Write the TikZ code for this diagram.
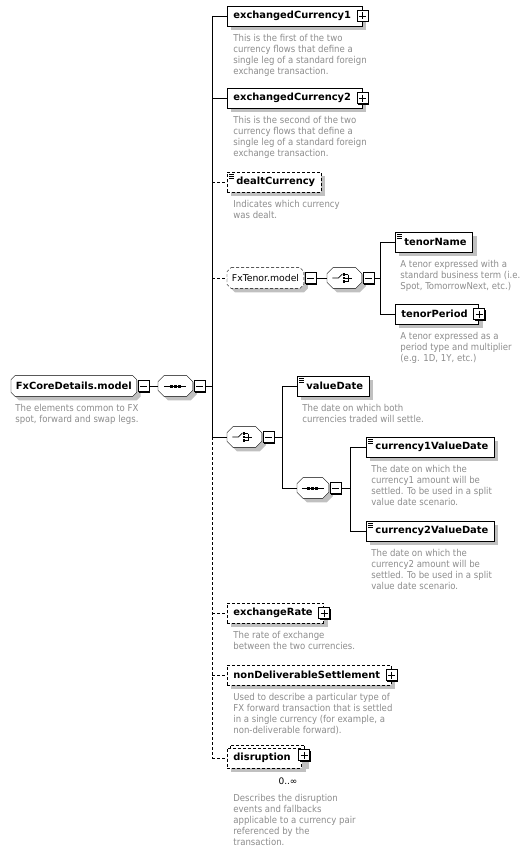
\documentclass[tikz,border=0pt]{standalone}
\usepackage{fontspec}
\setmainfont{DejaVu Sans}
\newfontfamily\descfont{DejaVu Sans Condensed}
\usetikzlibrary{positioning,shadows,backgrounds}

\definecolor{descgray}{RGB}{140,140,140}
\definecolor{shadegray}{RGB}{192,192,192}

\tikzset{
  box shadow/.style={drop shadow={shadow xshift=4pt,shadow yshift=-4pt,fill=shadegray,opacity=1}},
  elem/.style={draw,fill=white,rectangle,anchor=west,minimum height=20pt,
    inner xsep=6pt,inner ysep=0pt,font=\bfseries\fontsize{9.9}{12}\selectfont,box shadow},
  optional/.style={dash pattern=on 3pt off 2pt},
  plusroom/.style={execute at end node={\hspace{5pt}}},
  docroom/.style={execute at begin node={\hspace{3pt}},path picture={
    \foreach \k in {2.5,4.5,6.5}
      \draw[solid,line width=0.7pt] ([shift={(2,\k)}]path picture bounding box.north west) -- ++(5,0);}},
  groupnode/.style={rectangle,anchor=west,minimum height=20pt,inner xsep=4.5pt,inner ysep=0pt},
  compnode/.style={rectangle,anchor=west,minimum width=34pt,minimum height=20pt,inner sep=0pt},
  pmbox/.style={draw,solid,fill=white,minimum size=11pt,inner sep=0pt,
    drop shadow={shadow xshift=1pt,shadow yshift=-1pt,fill=black,opacity=1}},
  minus/.style={pmbox,path picture={
    \draw ([xshift=2pt]path picture bounding box.west) -- ([xshift=-2pt]path picture bounding box.east);}},
  plus/.style={pmbox,path picture={
    \draw ([xshift=2pt]path picture bounding box.west) -- ([xshift=-2pt]path picture bounding box.east);
    \draw ([yshift=-2pt]path picture bounding box.north) -- ([yshift=2pt]path picture bounding box.south);}},
  desc/.style={anchor=north west,align=left,inner sep=0pt,text=descgray,
    font=\descfont\fontsize{9.5}{11}\selectfont},
}

% chamfered outline with shadow behind a node: [options]{node}{chamfer}
\newcommand\chamfer[3][]{%
  \begin{scope}[on background layer]
  \draw[fill=white,box shadow,#1]
    ([xshift=#3pt]#2.north west) -- ([xshift=-#3pt]#2.north east)
    -- ([yshift=-#3pt]#2.north east) -- ([yshift=#3pt]#2.south east)
    -- ([xshift=-#3pt]#2.south east) -- ([xshift=#3pt]#2.south west)
    -- ([yshift=#3pt]#2.south west) -- ([yshift=-#3pt]#2.north west) -- cycle;
  \end{scope}}
% sequence sign
\newcommand\seqsign[1]{%
  \draw ([xshift=-11pt]#1.center) -- ([xshift=11pt]#1.center);
  \foreach \d in {-4,0,4}
    \fill ([shift={(\d-1.5,-1.5)}]#1.center) rectangle ([shift={(\d+1.5,1.5)}]#1.center);}
% choice sign
\newcommand\choicesign[1]{%
  \draw ([xshift=-12pt]#1.center) -- ([xshift=-6pt]#1.center) -- ([shift={(-2,-4)}]#1.center);
  \foreach \e in {-3.5,0,3.5} {
    \fill ([shift={(-1.7,\e-1.2)}]#1.center) rectangle ([shift={(0.7,\e+1.2)}]#1.center);
    \draw ([shift={(0.7,\e)}]#1.center) -- ([shift={(3.5,\e)}]#1.center);}
  \draw ([shift={(3.5,-3.5)}]#1.center) -- ([shift={(3.5,3.5)}]#1.center);
  \draw ([shift={(3.5,0)}]#1.center) -- ([shift={(8,0)}]#1.center);}

\begin{document}
\begin{tikzpicture}[x=1pt,y=-1pt,line width=0.8pt]
\useasboundingbox (0,0) rectangle (526,851);

% root model group and its sequence
\node[groupnode,font=\bfseries\fontsize{9.9}{12}\selectfont] (root) at (11,386) {FxCoreDetails.model};
\chamfer{root}{4}
\node[minus,anchor=west] (rootm) at ([xshift=1pt]root.east) {};
\node[compnode] (seq1) at (158,386) {};
\chamfer{seq1}{6}
\seqsign{seq1}
\node[minus,anchor=west] (seq1m) at ([xshift=1pt]seq1.east) {};
\coordinate (sp) at (212,386);

% children of the main sequence
\node[elem,plusroom] (ec1) at (227,16) {exchangedCurrency1};
\node[plus] (ec1p) at (ec1.east) {};
\node[elem,plusroom] (ec2) at (227,98) {exchangedCurrency2};
\node[plus] (ec2p) at (ec2.east) {};
\node[elem,optional,docroom] (dealt) at (227,182) {dealtCurrency};

\node[groupnode,font=\fontsize{9.3}{12}\selectfont] (fxt) at (227,278) {FxTenor.model};
\chamfer[optional]{fxt}{4}
\node[minus,anchor=west] (fxtm) at ([xshift=1pt]fxt.east) {};
\node[compnode] (ch1) at (327,278) {};
\chamfer{ch1}{6}
\choicesign{ch1}
\node[minus,anchor=west] (ch1m) at ([xshift=1pt]ch1.east) {};
\coordinate (br1) at (380,278);
\node[elem,docroom] (tname) at (395,242) {tenorName};
\node[elem,plusroom] (tper) at (395,314) {tenorPeriod};
\node[plus] (tperp) at (tper.east) {};

\node[compnode] (ch2) at (227,437) {};
\chamfer{ch2}{6}
\choicesign{ch2}
\node[minus,anchor=west] (ch2m) at ([xshift=1pt]ch2.east) {};
\coordinate (br2) at (282,437);
\node[elem,docroom] (vdate) at (297,386) {valueDate};
\node[compnode,minimum width=31pt] (seq2) at (297,488) {};
\chamfer{seq2}{6}
\seqsign{seq2}
\node[minus,anchor=west] (seq2m) at ([xshift=1pt]seq2.east) {};
\coordinate (br3) at (350,488);
\node[elem,docroom] (c1vd) at (366,447) {currency1ValueDate};
\node[elem,docroom] (c2vd) at (366,531) {currency2ValueDate};

\node[elem,optional,plusroom] (xrate) at (227,613) {exchangeRate};
\node[plus] (xratep) at (xrate.east) {};
\node[elem,optional,plusroom] (nds) at (227,675) {nonDeliverableSettlement};
\node[plus] (ndsp) at (nds.east) {};
\node[elem,optional,plusroom] (disrbk) at (230,755) {\phantom{disruption}};
\node[elem,optional,plusroom] (disr) at (227,758) {disruption};
\node[plus] (disrp) at ([xshift=-1pt]disrbk.east) {};
\node[font=\fontsize{9}{11}\selectfont] (disrocc) at (288,781) {0..∞};

% descriptions
\node[desc] (rootd) at ([shift={(4,7)}]root.south west) {The elements common to FX\\spot, forward and swap legs.};
\node[desc] (ec1d) at ([shift={(6,7)}]ec1.south west) {This is the first of the two\\currency flows that define a\\single leg of a standard foreign\\exchange transaction.};
\node[desc] (ec2d) at ([shift={(6,7)}]ec2.south west) {This is the second of the two\\currency flows that define a\\single leg of a standard foreign\\exchange transaction.};
\node[desc] (dealtd) at ([shift={(6,7)}]dealt.south west) {Indicates which currency\\was dealt.};
\node[desc] (tnamed) at ([shift={(5,7)}]tname.south west) {A tenor expressed with a\\standard business term (i.e.\\Spot, TomorrowNext, etc.)};
\node[desc] (tperd) at ([shift={(5,7)}]tper.south west) {A tenor expressed as a\\period type and multiplier\\(e.g. 1D, 1Y, etc.)};
\node[desc] (vdated) at ([shift={(5,7)}]vdate.south west) {The date on which both\\currencies traded will settle.};
\node[desc] (c1vdd) at ([shift={(5,7)}]c1vd.south west) {The date on which the\\currency1 amount will be\\settled. To be used in a split\\value date scenario.};
\node[desc] (c2vdd) at ([shift={(5,7)}]c2vd.south west) {The date on which the\\currency2 amount will be\\settled. To be used in a split\\value date scenario.};
\node[desc] (xrated) at ([shift={(6,7)}]xrate.south west) {The rate of exchange\\between the two currencies.};
\node[desc] (ndsd) at ([shift={(6,7)}]nds.south west) {Used to describe a particular type of\\FX forward transaction that is settled\\in a single currency (for example, a\\non-deliverable forward).};
\node[desc] (disrd) at ([shift={(6,25)}]disr.south west) {Describes the disruption\\events and fallbacks\\applicable to a currency pair\\referenced by the\\transaction.};

% connectors
\draw (rootm.east) -- (seq1.west);
\draw (seq1m.east) -- (sp);
\draw (sp |- ec1.west) -- (sp |- ch2.west);
\draw[optional] (sp |- ch2.west) -- (sp |- disr.west);
\foreach \n in {ec1,ec2,ch2}
  \draw (sp |- \n.west) -- (\n.west);
\foreach \n in {dealt,fxt,xrate,nds,disr}
  \draw[optional] (sp |- \n.west) -- (\n.west);
\draw (fxtm.east) -- (ch1.west);
\draw (ch1m.east) -- (br1);
\draw (br1 |- tname.west) -- (br1 |- tper.west);
\draw (br1 |- tname.west) -- (tname.west);
\draw (br1 |- tper.west) -- (tper.west);
\draw (ch2m.east) -- (br2);
\draw (br2 |- vdate.west) -- (br2 |- seq2.west);
\draw (br2 |- vdate.west) -- (vdate.west);
\draw (br2 |- seq2.west) -- (seq2.west);
\draw (seq2m.east) -- (br3);
\draw (br3 |- c1vd.west) -- (br3 |- c2vd.west);
\draw (br3 |- c1vd.west) -- (c1vd.west);
\draw (br3 |- c2vd.west) -- (c2vd.west);
\end{tikzpicture}
\end{document}
